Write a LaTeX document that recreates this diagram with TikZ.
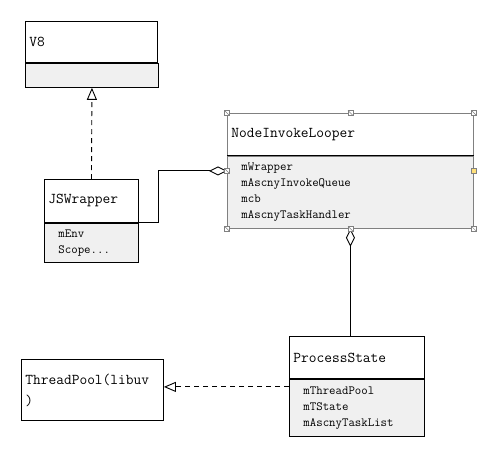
\documentclass[tikz,border=0pt]{standalone}
\usepackage{fontspec}
\usetikzlibrary{arrows.meta, calc}
\definecolor{hdlyel}{HTML}{FFE07A}
\begin{document}
\begin{tikzpicture}[x=1pt, y=-1pt, line width=0.9pt,
    ttl/.style={draw, fill=white, anchor=north west, align=left, inner xsep=4pt,
      font=\ttfamily\fontsize{15}{21}\selectfont},
    att/.style={draw, fill=gray!12, anchor=north west, align=left, inner xsep=14pt,
      font=\ttfamily\fontsize{12.5}{16}\selectfont},
    dep/.style={dash pattern=on 5pt off 4pt, -{Triangle[open, length=12pt, width=10pt]}},
    agg/.style={{Diamond[open, length=18pt, width=9pt]}-},
    hdl/.style={draw=gray, fill=white, minimum size=5pt, inner sep=0pt, line width=0.6pt,
      path picture={\draw[gray, line width=0.5pt] (path picture bounding box.north west)
        -- (path picture bounding box.south east);}}]
  \useasboundingbox (0,0) rectangle (497,458);
  % classes
  \node[ttl, text width=124pt, minimum height=41pt] (v8t) at (25,21) {V8};
  \node[att, minimum width=133pt, minimum height=24pt] (v8a) at (v8t.south west) {};
  \node[ttl, text width=86pt, minimum height=43pt] (jst) at (44,179) {JSWrapper};
  \node[att, text width=66pt, minimum height=39pt] (jsa) at (jst.south west)
    {mEnv\\Scope...};
  \node[ttl, draw=gray, text width=238pt, minimum height=42pt] (nilt) at (227,113)
    {NodeInvokeLooper};
  \node[att, draw=gray, text width=218pt, minimum height=72pt] (nila) at (nilt.south west)
    {mWrapper\\mAscnyInvokeQueue\\mcb\\mAscnyTaskHandler};
  \draw (nila.north west) -- (nila.north east);
  \node[ttl, text width=127pt, minimum height=42pt] (pst) at (289,336) {ProcessState};
  \node[att, text width=107pt, minimum height=57pt] (psa) at (pst.south west)
    {mThreadPool\\mTState\\mAscnyTaskList};
  \node[ttl, text width=134pt, minimum height=61pt] (tp) at (21,359) {ThreadPool(libuv\\)};
  % relations
  \coordinate (nilw) at ($(nilt.north west)!0.5!(nila.south west)$);
  \coordinate (nile) at ($(nilt.north east)!0.5!(nila.south east)$);
  \coordinate (psl) at ([yshift=-8pt]psa.north west);
  \draw[dep] (jst.north) -- (v8a.south);
  \draw[agg] (nilw) -- ++(-69,0) |- (jst.south east);
  \draw[agg] (nila.south) -- (nila.south |- pst.north);
  \draw[dep] (psl) -- (tp.east |- psl);
  % selection handles
  \foreach \p in {nilt.north west, nilt.north, nilt.north east, nilw,
      nila.south west, nila.south, nila.south east}
    \node[hdl] at (\p) {};
  \node[hdl, fill=hdlyel, path picture={}] (hy) at (nile) {};
\end{tikzpicture}
\end{document}
